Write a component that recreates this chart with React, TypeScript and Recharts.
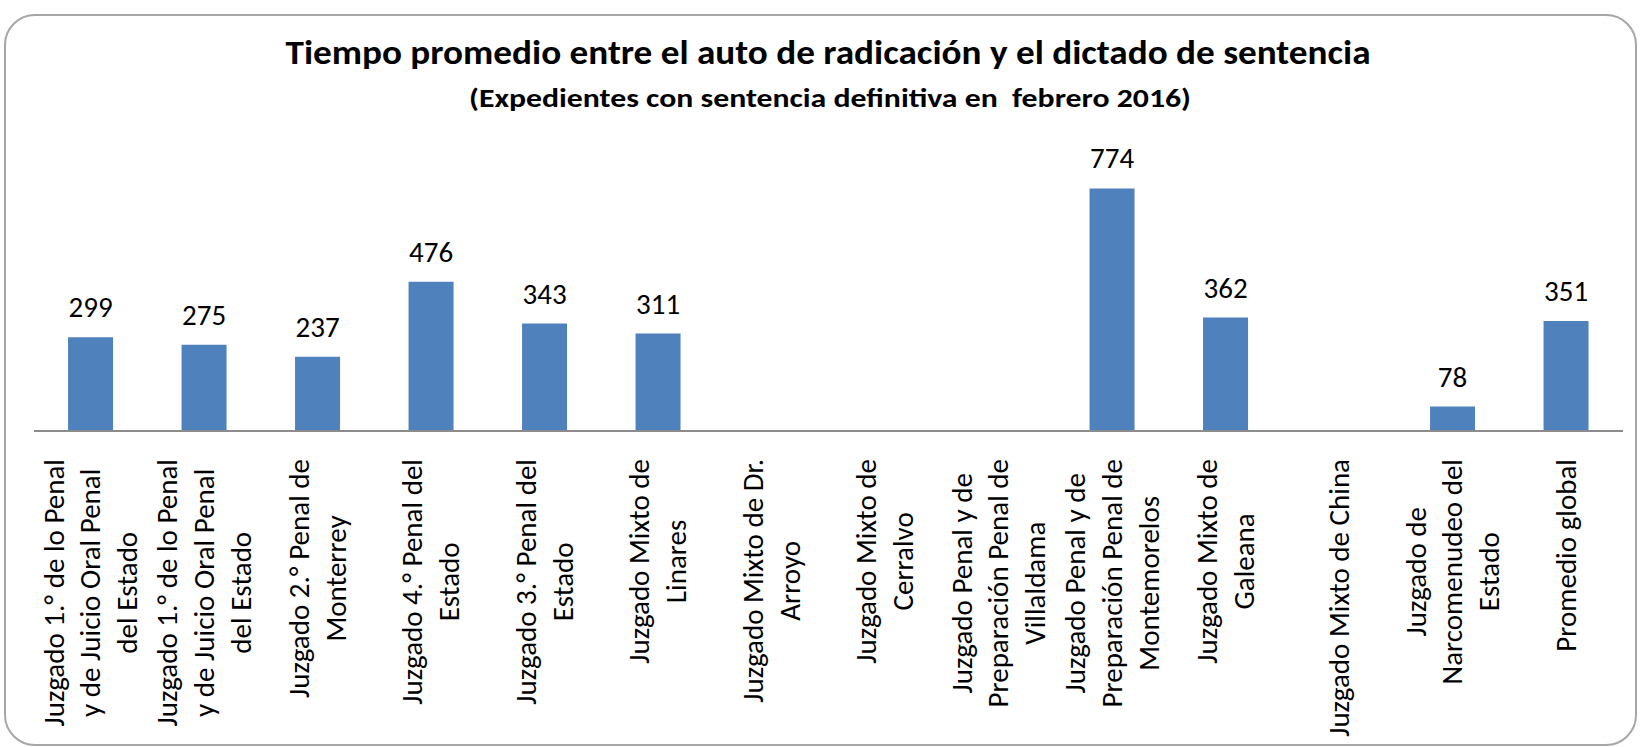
import React from 'react';
import { BarChart, Bar, XAxis, YAxis, LabelList } from 'recharts';

// category labels, one array of wrapped lines per bar
const categoryLines: string[][] = [
  ['Juzgado 1.° de lo Penal', 'y de Juicio Oral Penal', 'del Estado'],
  ['Juzgado 1.° de lo Penal', 'y de Juicio Oral Penal', 'del Estado'],
  ['Juzgado 2.° Penal de', 'Monterrey'],
  ['Juzgado 4.° Penal del', 'Estado'],
  ['Juzgado 3.° Penal del', 'Estado'],
  ['Juzgado Mixto de', 'Linares'],
  ['Juzgado Mixto de Dr.', 'Arroyo'],
  ['Juzgado Mixto de', 'Cerralvo'],
  ['Juzgado Penal y de', 'Preparación Penal de', 'Villaldama'],
  ['Juzgado Penal y de', 'Preparación Penal de', 'Montemorelos'],
  ['Juzgado Mixto de', 'Galeana'],
  ['Juzgado Mixto de China'],
  ['Juzgado de', 'Narcomenudeo del', 'Estado'],
  ['Promedio global'],
];

// días promedio (null = sin dato)
const dias: (number | null)[] = [299, 275, 237, 476, 343, 311, null, null, null, 774, 362, null, 78, 351];

const TITLE = 'Tiempo promedio entre el auto de radicación y el dictado de sentencia';
const SUBTITLE = '(Expedientes con sentencia definitiva en  febrero 2016)';

const FONT = "Carlito, 'Open Sans', sans-serif";
const TICK_SIZE = 29;
const LINE_H = 36.7;
const TICK_GAP = 20;

const data = categoryLines.map((lines, i) => ({ id: `c${i}`, value: dias[i] }));

let ctx: CanvasRenderingContext2D | null = null;
const measure = (t: string) => {
  if (!ctx) ctx = document.createElement('canvas').getContext('2d');
  if (!ctx) return t.length * TICK_SIZE * 0.5;
  ctx.font = `${TICK_SIZE}px ${FONT}`;
  return ctx.measureText(t).width;
};

const CategoryTick = (props: any) => {
  const { x, y, payload } = props;
  const idx = payload?.index ?? props.index ?? 0;
  const lines = categoryLines[idx] || [];
  const maxW = Math.max(...lines.map(measure));
  const n = lines.length;
  return (
    <g transform={`translate(${x},${y}) rotate(-90)`}>
      {lines.map((l, i) => (
        <text
          key={i}
          x={-(TICK_GAP + maxW / 2)}
          y={(i - (n - 1) / 2) * LINE_H + 0.33 * TICK_SIZE}
          textAnchor="middle"
          fontFamily={FONT}
          fontSize={TICK_SIZE}
          fill="#000"
        >
          {l}
        </text>
      ))}
    </g>
  );
};

const ValueLabel = (props: any) => {
  const { x, y, width, value } = props;
  if (value === null || value === undefined || value === 0) return null;
  return (
    <text x={x + width / 2} y={y - 20} textAnchor="middle" fontFamily={FONT} fontSize={29} fill="#000">
      {value}
    </text>
  );
};

export default function App() {
  return (
    <div style={{ position: 'absolute', left: 0, top: 0, width: 1641, height: 747, background: '#fff' }}>
      <svg width={1641} height={747} style={{ position: 'absolute', left: 0, top: 0 }}>
        <rect x={5} y={15} width={1631} height={730} rx={30} ry={30} fill="#fff" stroke="#a6a6a6" strokeWidth={2} />
      </svg>
      <div style={{ position: 'absolute', left: 0, top: 0 }}>
        <BarChart width={1641} height={747} data={data} margin={{ top: 149, right: 18, bottom: 8, left: 34 }} barCategoryGap="30%">
          <XAxis
            dataKey="id"
            interval={0}
            tickLine={false}
            axisLine={{ stroke: '#8c8c8c', strokeWidth: 2 }}
            height={308}
            tick={<CategoryTick />}
          />
          <YAxis hide domain={[0, 900]} />
          <Bar dataKey="value" fill="#4F81BD" isAnimationActive={false}>
            <LabelList dataKey="value" content={<ValueLabel />} />
          </Bar>
        </BarChart>
      </div>
      <svg width={1641} height={747} style={{ position: 'absolute', left: 0, top: 0, pointerEvents: 'none' }}>
        <text x={828} y={64} textAnchor="middle" fontFamily={FONT} fontWeight="bold" fontSize={35} textLength={1085} lengthAdjust="spacingAndGlyphs" fill="#000">
          {TITLE}
        </text>
        <text x={830} y={107} textAnchor="middle" fontFamily={FONT} fontWeight="bold" fontSize={26} textLength={722} lengthAdjust="spacingAndGlyphs" fill="#000" style={{ whiteSpace: 'pre' }}>
          {SUBTITLE}
        </text>
      </svg>
    </div>
  );
}
